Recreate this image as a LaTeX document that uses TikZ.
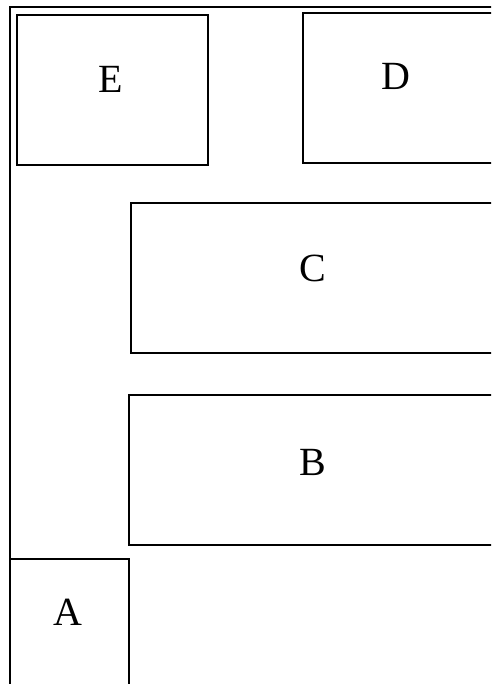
\documentclass[tikz,border=0pt]{standalone}
\usepackage{fontspec}
\setmainfont{Liberation Serif}
\begin{document}
\begin{tikzpicture}[x=1pt, y=-1pt, line width=2pt,
        box/.style={rectangle, draw, inner sep=0pt, anchor=north west},
        lbl/.style={font=\fontsize{40}{40}\selectfont, inner sep=0pt}]
    \useasboundingbox (0,0) rectangle (491,684);
    \clip (0,0) rectangle (491,684);
    \node[box, minimum width=600pt, minimum height=800pt] (frame) at (8.5,6) {};
    \node[box, minimum width=191pt, minimum height=150pt] (E) at (16,14) {};
    \node[box, minimum width=220pt, minimum height=150pt] (D) at (302,12) {};
    \node[box, minimum width=400pt, minimum height=150pt] (C) at (130,202) {};
    \node[box, minimum width=400pt, minimum height=150pt] (B) at (128,394) {};
    \node[box, minimum width=119.5pt, minimum height=200pt] (A) at (8.5,558) {};
    \node[lbl] (Etext) at (111,79) {E};
    \node[lbl] (Dtext) at (396,76) {D};
    \node[lbl] (Ctext) at (313,268) {C};
    \node[lbl] (Btext) at (313,462) {B};
    \node[lbl] (Atext) at (68,612) {A};
\end{tikzpicture}
\end{document}
